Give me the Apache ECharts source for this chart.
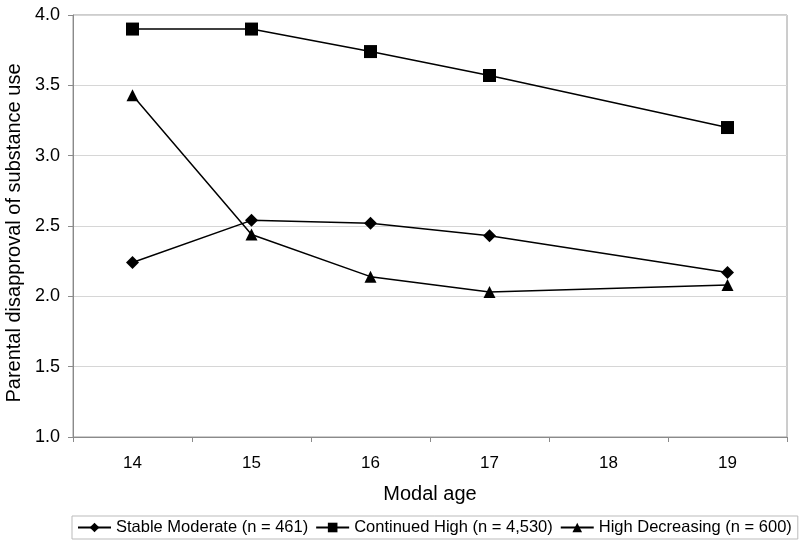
<!DOCTYPE html>
<html>
<head>
<meta charset="utf-8">
<script src="https://cdn.jsdelivr.net/npm/echarts@6/dist/echarts.min.js"></script>
<style>html,body{margin:0;padding:0;background:#fff}#c{width:800px;height:546px}</style>
</head>
<body>
<div id="c"></div>
<script>
var categories = ['14', '15', '16', '17', '18', '19'];
var stableModerate = [2.24, 2.54, 2.52, 2.43, null, 2.17];
var continuedHigh = [3.90, 3.90, 3.74, 3.57, null, 3.20];
var highDecreasing = [3.43, 2.44, 2.14, 2.03, null, 2.08];
var seriesNames = ['Stable Moderate (n = 461)', 'Continued High (n = 4,530)', 'High Decreasing (n = 600)'];
var FONT = '"Liberation Sans", Arial, sans-serif';

var chart = echarts.init(document.getElementById('c'), null, {renderer: 'canvas'});
function mk(name, data, symbol, size) {
  return {
    name: name, type: 'line', data: data, connectNulls: true,
    symbol: symbol, symbolSize: size,
    lineStyle: {color: '#000', width: 1.5},
    itemStyle: {color: '#000'},
    animation: false
  };
}
chart.setOption({
  animation: false,
  grid: {left: 73, right: 13, top: 15, bottom: 109, containLabel: false, outerBoundsMode: 'none',
    show: true, borderColor: '#9a9a9a', borderWidth: 1},
  legend: {
    bottom: 7, left: 72, width: 760,
    data: seriesNames,
    itemWidth: 33, itemHeight: 12, itemGap: 7,
    borderColor: '#bbb', borderWidth: 1, padding: [3, 6, 3, 5],
    textStyle: {fontFamily: FONT, fontSize: 16.5, color: '#000'},
    inactiveColor: '#000'
  },
  xAxis: {
    type: 'category', data: categories, boundaryGap: true,
    name: 'Modal age', nameLocation: 'middle', nameGap: 47,
    nameTextStyle: {fontFamily: FONT, fontSize: 20, color: '#000'},
    axisLine: {lineStyle: {color: '#8a8a8a', width: 1}},
    axisTick: {show: true, length: 5, lineStyle: {color: '#8a8a8a'}},
    axisLabel: {fontFamily: FONT, fontSize: 17, color: '#000', margin: 18}
  },
  yAxis: {
    type: 'value', min: 1, max: 4, interval: 0.5,
    name: 'Parental disapproval of substance use', nameLocation: 'middle', nameGap: 47,
    nameTextStyle: {fontFamily: FONT, fontSize: 20, color: '#000', padding: [0, 14, 0, 0]},
    axisLine: {show: true, lineStyle: {color: '#8a8a8a', width: 1}},
    axisTick: {show: true, length: 5, lineStyle: {color: '#8a8a8a'}},
    axisLabel: {fontFamily: FONT, fontSize: 18, color: '#000', margin: 13,
      formatter: function (v) { return v.toFixed(1); }},
    splitLine: {lineStyle: {color: '#d6d6d6', width: 1}}
  },
  series: [
    mk(seriesNames[0], stableModerate, 'diamond', [13, 13]),
    mk(seriesNames[1], continuedHigh, 'rect', 13),
    mk(seriesNames[2], highDecreasing, 'triangle', 12)
  ]
});
</script>
</body>
</html>
